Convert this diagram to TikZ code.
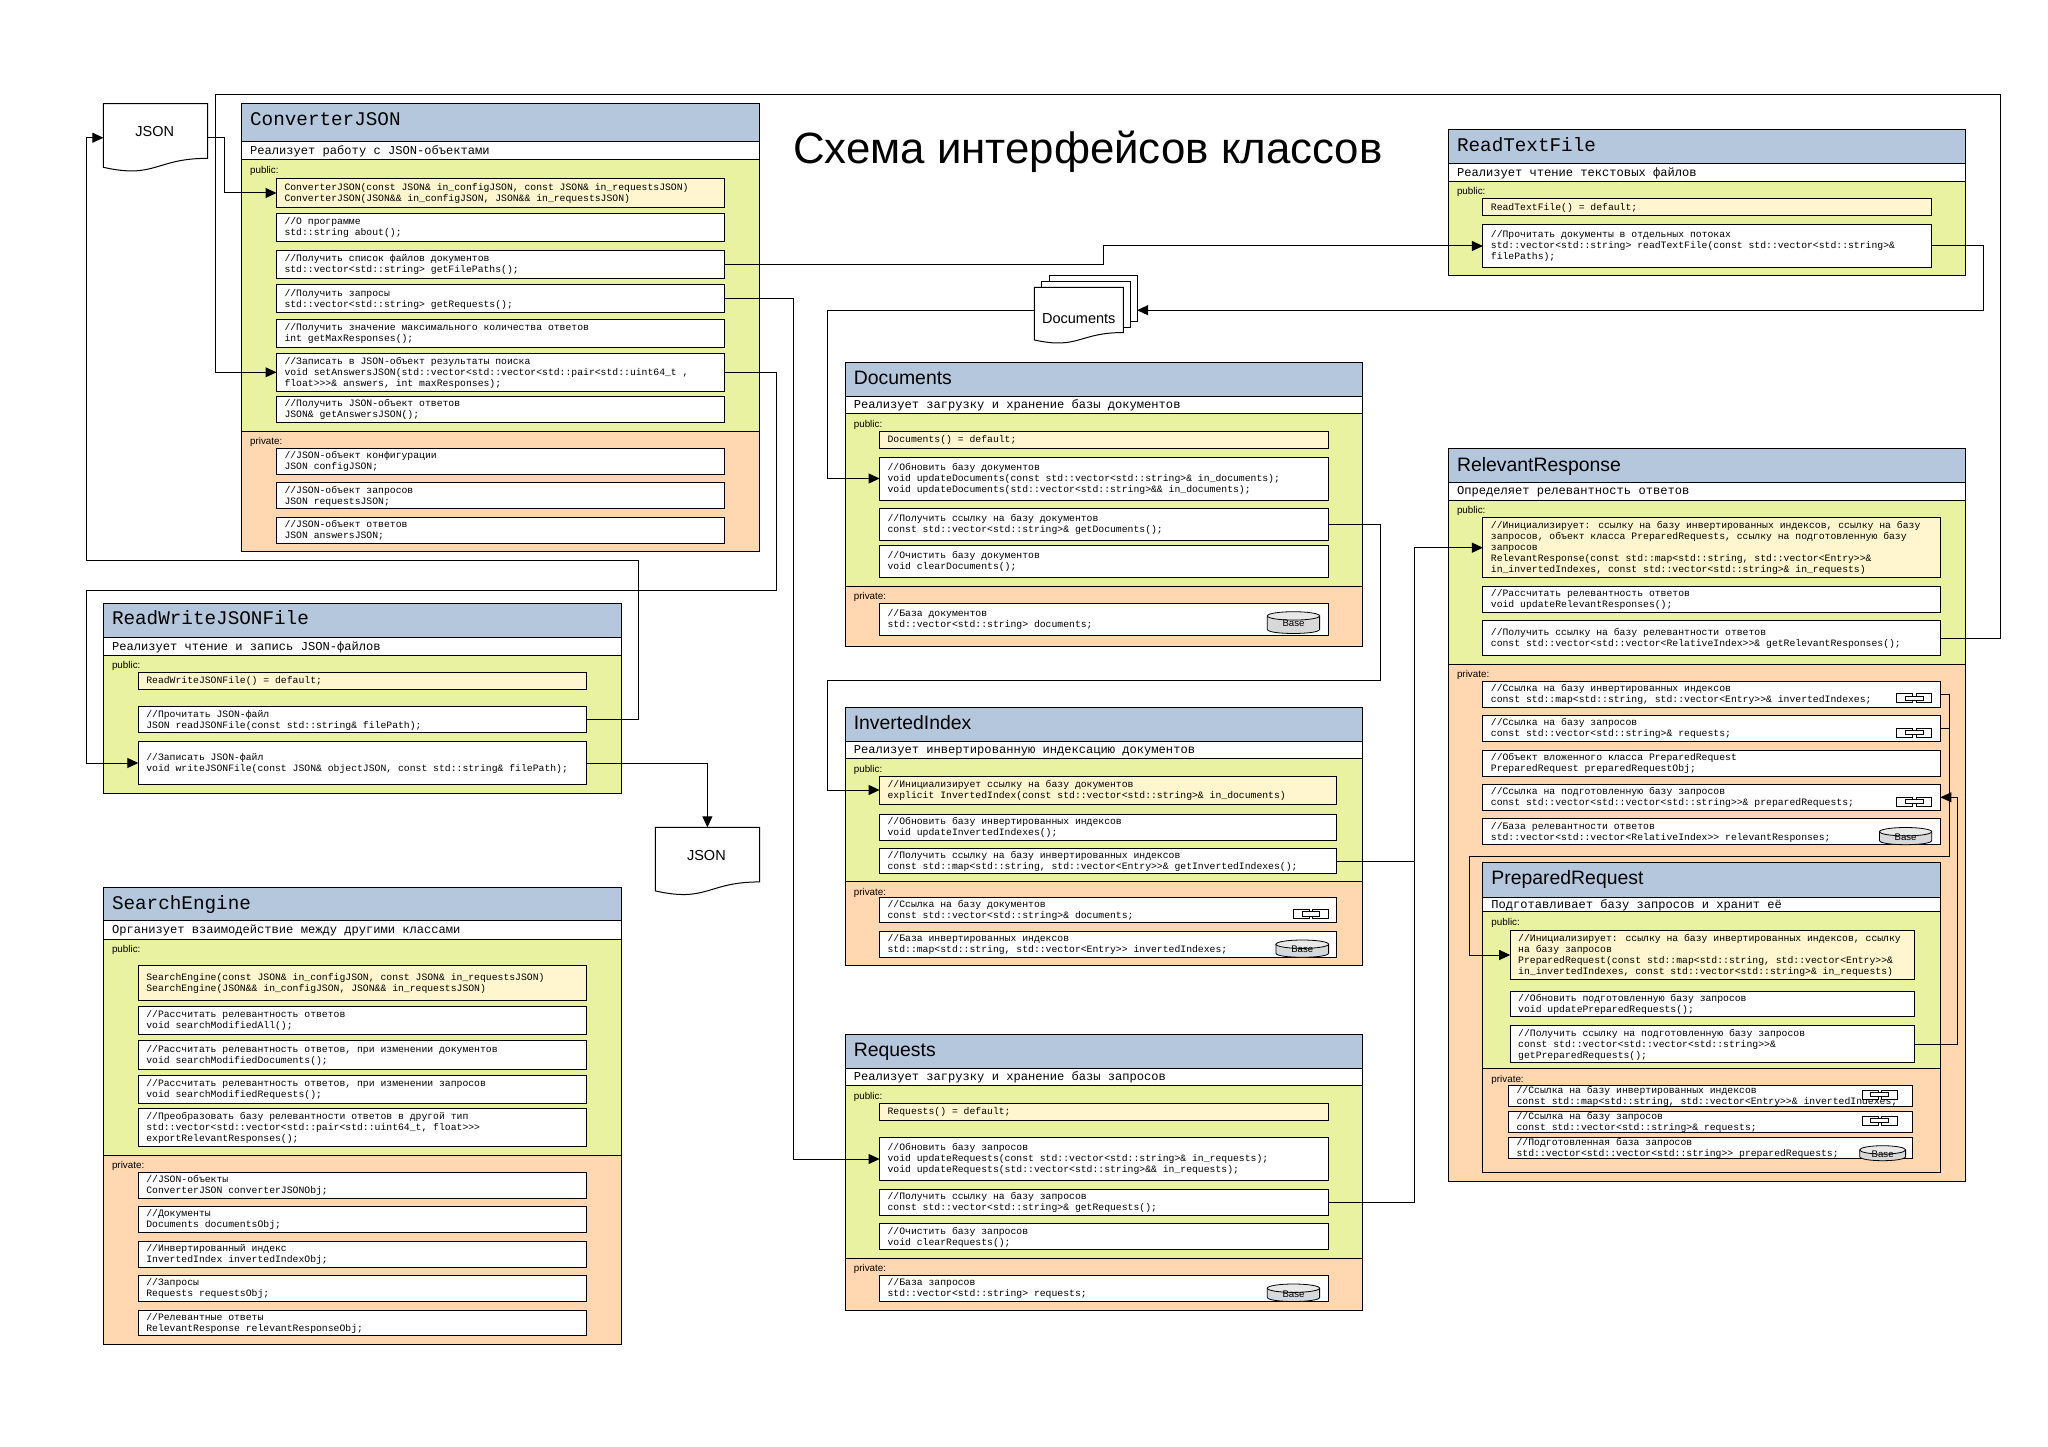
\documentclass[tikz,border=0pt]{standalone}
\usepackage{fontspec}
\usetikzlibrary{arrows.meta,calc}
\setmainfont{Liberation Sans}
\newfontfamily\monof{Liberation Mono}
\definecolor{hdblue}{HTML}{B4C7DC}
\definecolor{publime}{HTML}{E8F2A1}
\definecolor{privorange}{HTML}{FFD8B2}
\definecolor{ctoryellow}{HTML}{FFF5CE}
\definecolor{basebody}{HTML}{D8D8D8}
\definecolor{basetop}{HTML}{E8E8E8}
\tikzset{
  boxbase/.style={draw=black,line width=1pt,rectangle,inner sep=0pt,outer sep=0pt,anchor=north west},
  titlebox/.style={boxbase,fill=hdblue},
  subbox/.style={boxbase,fill=white},
  pubbox/.style={boxbase,fill=publime},
  privbox/.style={boxbase,fill=privorange},
  itembox/.style={boxbase,fill=white},
  ctorbox/.style={boxbase,fill=ctoryellow},
  itemtext/.style={anchor=west,align=left,inner sep=0pt,outer sep=0pt,font=\monof\fontsize{9.76}{11}\selectfont},
  titlemono/.style={anchor=base west,inner sep=0pt,yshift=-0.5pt,font=\monof\fontsize{19.3}{22}\selectfont},
  titlesans/.style={anchor=base west,inner sep=0pt,yshift=-1.3pt,font=\fontsize{19.4}{22}\selectfont},
  subtext/.style={anchor=west,inner sep=0pt,font=\monof\fontsize{12.1}{14}\selectfont},
  seclabel/.style={anchor=base west,inner sep=0pt,font=\fontsize{9.85}{11}\selectfont},
  doclabel/.style={inner sep=0pt,font=\fontsize{14.5}{16}\selectfont},
  baselabel/.style={inner sep=0pt,font=\fontsize{9.6}{10}\selectfont},
  conn/.style={draw=black,line width=1pt},
  flow/.style={conn,-{Triangle[length=11pt,width=10pt]}},
  shapeline/.style={draw=black,line width=1pt,fill=white,line join=miter},
  docanchor/.style={rectangle,inner sep=0pt,outer sep=0pt,anchor=north west},
}
% name,x1,x2,ytop,ytitle,ysub,titlestyle,title,subtitle
\newcommand{\ClassHead}[9]{%
  \pgfmathsetmacro\bw{#3-#2}\pgfmathsetmacro\hA{#5-#4}\pgfmathsetmacro\hB{#6-#5}%
  \node[titlebox,minimum width=\bw pt,minimum height=\hA pt] (#1t) at (#2,#4) {};
  \pgfmathsetmacro\tx{#2+8.3}\pgfmathsetmacro\ty{#4+21}%
  \node[#7] (#1tt) at (\tx,\ty) {#8};
  \node[subbox,minimum width=\bw pt,minimum height=\hB pt] (#1s) at (#2,#5) {};
  \pgfmathsetmacro\ty{(#5+#6)/2+0.6}%
  \node[subtext] (#1st) at (\tx,\ty) {#9};
}
% name,style,x1,x2,y1,y2,label
\newcommand{\Section}[7]{%
  \pgfmathsetmacro\bw{#4-#3}\pgfmathsetmacro\bh{#6-#5}%
  \node[#2,minimum width=\bw pt,minimum height=\bh pt] (#1) at (#3,#5) {};
  \pgfmathsetmacro\tx{#3+8.3}\pgfmathsetmacro\ty{#5+13.4}%
  \node[seclabel] (#1l) at (\tx,\ty) {#7};
}
% name,style,x1,x2,y1,y2,text
\newcommand{\Item}[7]{%
  \pgfmathsetmacro\bw{#4-#3}\pgfmathsetmacro\bh{#6-#5}%
  \node[#2,minimum width=\bw pt,minimum height=\bh pt] (#1) at (#3,#5) {};
  \pgfmathsetmacro\tx{#3+8}\pgfmathsetmacro\ty{(#5+#6)/2+0.4}%
  \node[itemtext] (#1x) at (\tx,\ty) {\rule{0pt}{7.2pt}#7\rule[-2.1pt]{0pt}{2.1pt}};
}
% name,x1,y1,x2,y2
\newcommand{\BaseIcon}[5]{%
  \pgfmathsetmacro\ry{4.2}\pgfmathsetmacro\cx{(#2+#4)/2}\pgfmathsetmacro\rx{(#4-#2)/2}%
  \pgfmathsetmacro\ya{#3+\ry}\pgfmathsetmacro\yb{#5-\ry}\pgfmathsetmacro\yc{#5+0.33*\ry}%
  \draw[draw=black,line width=0.8pt,fill=basebody] (#2,\ya) -- (#2,\yb) .. controls (#2,\yc) and (#4,\yc) .. (#4,\yb) -- (#4,\ya) -- cycle;
  \draw[draw=black,line width=0.8pt,fill=basetop] (\cx,\ya) ellipse [x radius=\rx pt,y radius=\ry pt];
  \pgfmathsetmacro\ym{(#3+#5)/2+1}%
  \node[baselabel] (#1) at (\cx,\ym) {Base};
}
% x1,y1,x2,y2
\newcommand{\LinkIcon}[4]{%
  \pgfmathsetmacro\w{#3-#1}\pgfmathsetmacro\xa{#1+0.45*\w}\pgfmathsetmacro\xb{#1+0.55*\w}%
  \pgfmathsetmacro\xc{#1+0.25*\w}\pgfmathsetmacro\xd{#1+0.75*\w}%
  \pgfmathsetmacro\yc{#2+2.3}\pgfmathsetmacro\yd{#4-2.3}%
  \draw[draw=black,line width=0.7pt,fill=white] (#1,#2) rectangle (\xa,#4);
  \draw[draw=black,line width=0.7pt,fill=white] (\xb,#2) rectangle (#3,#4);
  \draw[draw=black,line width=0.7pt,fill=white] (\xc,\yc) rectangle (\xd,\yd);
}
% x1,y1,w,h : document outline
\newcommand{\DocOutline}[4]{%
  \pgfmathsetmacro\xb{#1+#3}\pgfmathsetmacro\xm{#1+0.5*#3}\pgfmathsetmacro\yb{#2+0.802*#4}%
  \pgfmathsetmacro\ya{#2+0.934*#4}\pgfmathsetmacro\yc{#2+1.1075*#4}%
  \draw[shapeline] (#1,#2) -- (\xb,#2) -- (\xb,\yb) .. controls (\xm,\yb) and (\xm,\yc) .. (#1,\ya) -- cycle;
}
\begin{document}
\begin{tikzpicture}[x=1pt,y=-1pt]
\useasboundingbox (0,0) rectangle (2048,1447);
\fill[white] (0,0) rectangle (2048,1447);

\node[anchor=base west,inner sep=0pt,font=\fontsize{43.8}{50}\selectfont] (heading) at (792.8,163.6) {Схема интерфейсов классов};

% ---------- ConverterJSON
\ClassHead{cj}{241.6}{759}{103.7}{141.3}{160}{titlemono}{ConverterJSON}{Реализует работу с JSON-объектами}
\Section{cjpub}{pubbox}{241.6}{759}{160}{431}{public:}
\Section{cjpriv}{privbox}{241.6}{759}{431}{551.7}{private:}
\Item{cj1}{ctorbox}{276.5}{724.6}{178.7}{207.3}{ConverterJSON(const JSON\& in\_configJSON, const JSON\& in\_requestsJSON)\\ConverterJSON(JSON\&\& in\_configJSON, JSON\&\& in\_requestsJSON)}
\Item{cj2}{itembox}{276.5}{724.6}{213.3}{241.7}{//О программе\\std::string about();}
\Item{cj3}{itembox}{276.5}{724.6}{250.3}{278.3}{//Получить список файлов документов\\std::vector<std::string> getFilePaths();}
\Item{cj4}{itembox}{276.5}{724.6}{284.7}{312.7}{//Получить запросы\\std::vector<std::string> getRequests();}
\Item{cj5}{itembox}{276.5}{724.6}{319.3}{347.3}{//Получить значение максимального количества ответов\\int getMaxResponses();}
\Item{cj6}{itembox}{276.5}{724.6}{353.3}{391.3}{//Записать в JSON-объект результаты поиска\\void setAnswersJSON(std::vector<std::vector<std::pair<std::uint64\_t ,\\float>{}>{}>\& answers, int maxResponses);}
\Item{cj7}{itembox}{276.5}{724.6}{396.7}{422.3}{//Получить JSON-объект ответов\\JSON\& getAnswersJSON();}
\Item{cj8}{itembox}{276.5}{724.6}{448.3}{474.3}{//JSON-объект конфигурации\\JSON configJSON;}
\Item{cj9}{itembox}{276.5}{724.6}{482.7}{508.7}{//JSON-объект запросов\\JSON requestsJSON;}
\Item{cj10}{itembox}{276.5}{724.6}{517.3}{543.3}{//JSON-объект ответов\\JSON answersJSON;}

% ---------- ReadWriteJSONFile
\ClassHead{rw}{103.5}{621.5}{603.3}{637.7}{655}{titlemono}{ReadWriteJSONFile}{Реализует чтение и запись JSON-файлов}
\Section{rwpub}{pubbox}{103.5}{621.5}{655}{793}{public:}
\Item{rw1}{ctorbox}{138.3}{586.6}{672.7}{689.3}{ReadWriteJSONFile() = default;}
\Item{rw2}{itembox}{138.3}{586.6}{706.7}{732.7}{//Прочитать JSON-файл\\JSON readJSONFile(const std::string\& filePath);}
\Item{rw3}{itembox}{138.3}{586.6}{741.7}{784.3}{//Записать JSON-файл\\void writeJSONFile(const JSON\& objectJSON, const std::string\& filePath);}

% ---------- SearchEngine
\ClassHead{se}{103.5}{621.5}{887.7}{920.7}{939.3}{titlemono}{SearchEngine}{Организует взаимодействие между другими классами}
\Section{sepub}{pubbox}{103.5}{621.5}{939.3}{1155}{public:}
\Section{sepriv}{privbox}{103.5}{621.5}{1155}{1344.3}{private:}
\Item{se1}{ctorbox}{138.3}{586.6}{965.3}{1000}{SearchEngine(const JSON\& in\_configJSON, const JSON\& in\_requestsJSON)\\SearchEngine(JSON\&\& in\_configJSON, JSON\&\& in\_requestsJSON)}
\Item{se2}{itembox}{138.3}{586.6}{1006}{1034.3}{//Рассчитать релевантность ответов\\void searchModifiedAll();}
\Item{se3}{itembox}{138.3}{586.6}{1040.7}{1069}{//Рассчитать релевантность ответов, при изменении документов\\void searchModifiedDocuments();}
\Item{se4}{itembox}{138.3}{586.6}{1075}{1103.3}{//Рассчитать релевантность ответов, при изменении запросов\\void searchModifiedRequests();}
\Item{se5}{itembox}{138.3}{586.6}{1108.7}{1146.3}{//Преобразовать базу релевантности ответов в другой тип\\std::vector<std::vector<std::pair<std::uint64\_t, float>{}>{}>\\exportRelevantResponses();}
\Item{se6}{itembox}{138.3}{586.6}{1172}{1198}{//JSON-объекты\\ConverterJSON converterJSONObj;}
\Item{se7}{itembox}{138.3}{586.6}{1206.7}{1232.3}{//Документы\\Documents documentsObj;}
\Item{se8}{itembox}{138.3}{586.6}{1241}{1267}{//Инвертированный индекс\\InvertedIndex invertedIndexObj;}
\Item{se9}{itembox}{138.3}{586.6}{1275.7}{1301.3}{//Запросы\\Requests requestsObj;}
\Item{se10}{itembox}{138.3}{586.6}{1310}{1335.7}{//Релевантные ответы\\RelevantResponse relevantResponseObj;}

% ---------- Documents
\ClassHead{dc}{845.3}{1362.4}{362.3}{396.7}{413.7}{titlesans}{Documents}{Реализует загрузку и хранение базы документов}
\Section{dcpub}{pubbox}{845.3}{1362.4}{413.7}{586.3}{public:}
\Section{dcpriv}{privbox}{845.3}{1362.4}{586.3}{646.7}{private:}
\Item{dc1}{ctorbox}{879.6}{1328.2}{431.3}{448.3}{Documents() = default;}
\Item{dc2}{itembox}{879.6}{1328.2}{457}{500}{//Обновить базу документов\\void updateDocuments(const std::vector<std::string>\& in\_documents);\\void updateDocuments(std::vector<std::string>\&\& in\_documents);}
\Item{dc3}{itembox}{879.6}{1328.2}{508.3}{540.3}{//Получить ссылку на базу документов\\const std::vector<std::string>\& getDocuments();}
\Item{dc4}{itembox}{879.6}{1328.2}{545.7}{577.3}{//Очистить базу документов\\void clearDocuments();}
\Item{dc5}{itembox}{879.6}{1328.2}{603.3}{635.3}{//База документов\\std::vector<std::string> documents;}
\BaseIcon{dcbase}{1267.3}{611.7}{1319.6}{633.5}

% ---------- InvertedIndex
\ClassHead{ii}{845.3}{1362.4}{707}{741.3}{758.7}{titlesans}{InvertedIndex}{Реализует инвертированную индексацию документов}
\Section{iipub}{pubbox}{845.3}{1362.4}{758.7}{881.7}{public:}
\Section{iipriv}{privbox}{845.3}{1362.4}{881.7}{965}{private:}
\Item{ii1}{ctorbox}{879.6}{1336.7}{776}{804}{//Инициализирует ссылку на базу документов\\explicit InvertedIndex(const std::vector<std::string>\& in\_documents)}
\Item{ii2}{itembox}{879.6}{1336.7}{814.7}{840.3}{//Обновить базу инвертированных индексов\\void updateInvertedIndexes();}
\Item{ii3}{itembox}{879.6}{1336.7}{848.3}{873.7}{//Получить ссылку на базу инвертированных индексов\\const std::map<std::string, std::vector<Entry>{}>\& getInvertedIndexes();}
\Item{ii4}{itembox}{879.6}{1336.7}{897.3}{922.3}{//Ссылка на базу документов\\const std::vector<std::string>\& documents;}
\Item{ii5}{itembox}{879.6}{1336.7}{931.7}{957.3}{//База инвертированных индексов\\std::map<std::string, std::vector<Entry>{}> invertedIndexes;}
\LinkIcon{1293}{909.3}{1328.6}{918.3}
\BaseIcon{iibase}{1275.9}{940}{1328.6}{957.3}

% ---------- Requests
\ClassHead{rq}{845.3}{1362.4}{1034.3}{1068.7}{1085.7}{titlesans}{Requests}{Реализует загрузку и хранение базы запросов}
\Section{rqpub}{pubbox}{845.3}{1362.4}{1085.7}{1258.3}{public:}
\Section{rqpriv}{privbox}{845.3}{1362.4}{1258.3}{1310}{private:}
\Item{rq1}{ctorbox}{879.6}{1328.2}{1103.3}{1120.3}{Requests() = default;}
\Item{rq2}{itembox}{879.6}{1328.2}{1137.3}{1180.7}{//Обновить базу запросов\\void updateRequests(const std::vector<std::string>\& in\_requests);\\void updateRequests(std::vector<std::string>\&\& in\_requests);}
\Item{rq3}{itembox}{879.6}{1328.2}{1189.3}{1215}{//Получить ссылку на базу запросов\\const std::vector<std::string>\& getRequests();}
\Item{rq4}{itembox}{879.6}{1328.2}{1223.7}{1249.7}{//Очистить базу запросов\\void clearRequests();}
\Item{rq5}{itembox}{879.6}{1328.2}{1275.7}{1301.3}{//База запросов\\std::vector<std::string> requests;}
\BaseIcon{rqbase}{1267.3}{1284}{1319.6}{1301.5}

% ---------- ReadTextFile
\ClassHead{rt}{1448.5}{1965.7}{130}{164}{181.3}{titlemono}{ReadTextFile}{Реализует чтение текстовых файлов}
\Section{rtpub}{pubbox}{1448.5}{1965.7}{181.3}{276}{public:}
\Item{rt1}{ctorbox}{1482.9}{1931.7}{198.7}{215.7}{ReadTextFile() = default;}
\Item{rt2}{itembox}{1482.9}{1931.7}{224.3}{267.7}{//Прочитать документы в отдельных потоках\\std::vector<std::string> readTextFile(const std::vector<std::string>\&\\filePaths);}

% ---------- RelevantResponse
\ClassHead{rr}{1448.5}{1965.7}{448.7}{482.7}{500}{titlesans}{RelevantResponse}{Определяет релевантность ответов}
\Section{rrpub}{pubbox}{1448.5}{1965.7}{500}{664}{public:}
\Section{rrpriv}{privbox}{1448.5}{1965.7}{664}{1181}{private:}
\Item{rr1}{ctorbox}{1482.9}{1940.4}{517.7}{577.7}{//Инициализирует: ссылку на базу инвертированных индексов, ссылку на базу\\запросов, объект класса PreparedRequests, ссылку на подготовленную базу\\запросов\\RelevantResponse(const std::map<std::string, std::vector<Entry>{}>\&\\in\_invertedIndexes, const std::vector<std::string>\& in\_requests)}
\Item{rr2}{itembox}{1482.9}{1940.4}{586.3}{612}{//Рассчитать релевантность ответов\\void updateRelevantResponses();}
\Item{rr3}{itembox}{1482.9}{1940.4}{620.7}{655.3}{//Получить ссылку на базу релевантности ответов\\const std::vector<std::vector<RelativeIndex>{}>\& getRelevantResponses();}
\Item{rr4}{itembox}{1482.9}{1940.4}{681}{707}{//Ссылка на базу инвертированных индексов\\const std::map<std::string, std::vector<Entry>{}>\& invertedIndexes;}
\Item{rr5}{itembox}{1482.9}{1940.4}{715.7}{741.3}{//Ссылка на базу запросов\\const std::vector<std::string>\& requests;}
\Item{rr6}{itembox}{1482.9}{1940.4}{750}{776}{//Объект вложенного класса PreparedRequest\\PreparedRequest preparedRequestObj;}
\Item{rr7}{itembox}{1482.9}{1940.4}{784.3}{810.3}{//Ссылка на подготовленную базу запросов\\const std::vector<std::vector<std::string>{}>\& preparedRequests;}
\Item{rr8}{itembox}{1482.9}{1940.4}{818.7}{844.7}{//База релевантности ответов\\std::vector<std::vector<RelativeIndex>{}> relevantResponses;}
\LinkIcon{1896.5}{693.7}{1931.7}{702.7}
\LinkIcon{1896.5}{728}{1931.7}{737}
\LinkIcon{1896.5}{797}{1931.7}{806}
\BaseIcon{rrbase}{1879.5}{827.5}{1931.7}{844.7}

% ---------- PreparedRequest
\ClassHead{pr}{1482.9}{1940.4}{862}{897.7}{911.7}{titlesans}{PreparedRequest}{Подготавливает базу запросов и хранит её}
\Section{prpub}{pubbox}{1482.9}{1940.4}{911.7}{1068.7}{public:}
\Section{prpriv}{privbox}{1482.9}{1940.4}{1068.7}{1172.3}{private:}
\Item{pr1}{ctorbox}{1510.2}{1914.3}{930.7}{979.3}{//Инициализирует: ссылку на базу инвертированных индексов, ссылку\\на базу запросов\\PreparedRequest(const std::map<std::string, std::vector<Entry>{}>\&\\in\_invertedIndexes, const std::vector<std::string>\& in\_requests)}
\Item{pr2}{itembox}{1510.2}{1914.3}{991.3}{1016.3}{//Обновить подготовленную базу запросов\\void updatePreparedRequests();}
\Item{pr3}{itembox}{1510.2}{1914.3}{1025.7}{1062.7}{//Получить ссылку на подготовленную базу запросов\\const std::vector<std::vector<std::string>{}>\&\\getPreparedRequests();}
\Item{pr4}{itembox}{1508.6}{1912.7}{1085.7}{1106.3}{//Ссылка на базу инвертированных индексов\\const std::map<std::string, std::vector<Entry>{}>\& invertedIndexes;}
\Item{pr5}{itembox}{1508.6}{1912.7}{1111.7}{1132.3}{//Ссылка на базу запросов\\const std::vector<std::string>\& requests;}
\Item{pr6}{itembox}{1508.6}{1912.7}{1137.7}{1158.3}{//Подготовленная база запросов\\std::vector<std::vector<std::string>{}> preparedRequests;}
\LinkIcon{1862}{1090}{1897.3}{1099}
\LinkIcon{1862}{1116}{1897.3}{1125}
\BaseIcon{prbase}{1859.7}{1145.7}{1905.6}{1160.7}

% ---------- document shapes
\DocOutline{103.4}{103.7}{104.2}{68.1}
\node[docanchor,minimum width=104.2pt,minimum height=68.1pt] (jsonA) at (103.4,103.7) {};
\node[doclabel] (jsonAt) at (154.8,131.2) {JSON};
\DocOutline{655.3}{827.3}{104.2}{68.1}
\node[docanchor,minimum width=104.2pt,minimum height=68.1pt] (jsonB) at (655.3,827.3) {};
\node[doclabel] (jsonBt) at (706.4,855.2) {JSON};
\draw[shapeline] (1049,275.7) rectangle (1137.1,321.7);
\draw[shapeline] (1041.6,281.7) rectangle (1130.2,327.7);
\DocOutline{1034.3}{287.3}{89}{56.4}
\node[docanchor,minimum width=102.8pt,minimum height=69pt] (docs) at (1034.3,275.7) {};
\node[doclabel] (docst) at (1078.8,318.8) {Documents};

% ---------- connectors
\draw[flow] (jsonA.east) -| (224.6,150) |- (cj1.west);
\draw[flow] (rr3.east) -| (2000.5,94.7) -| (215.9,200) |- (cj6.west);
\draw[flow] (rw2.east) -| (638.3,560.3) -| (86.4,400) |- (jsonA.west);
\draw[flow] (cj6.east) -| (776.5,590.7) -| (86.4,700) |- (rw3.west);
\draw[flow] (rw3.east) -| (jsonB.north);
\draw[flow] (cj3.east) -| (1103.6,255) |- (rt2.west);
\draw[flow] (cj4.east) -| (793.5,700) |- (rq2.west);
\draw[flow] (rt2.east) -| (1983,300) |- (docs.east);
\draw[flow] (docs.west) -| (827.8,400) |- (dc2.west);
\draw[flow] (dc3.east) -| (1380,680.7) -| (827,750) |- (ii1.west);
\draw[flow] (ii3.east) -| (1414.4,700) |- (rr1.west);
\draw[conn] (rq3.east) -| (1414.4,861);
\draw[flow] (rr4.east) -| (1949,856) -| (1469.4,900) |- (pr1.west);
\draw[conn] (rr5.east) -| (1949,800);
\draw[flow] (pr3.east) -| (1957.8,900) |- (rr7.east);
\end{tikzpicture}
\end{document}
